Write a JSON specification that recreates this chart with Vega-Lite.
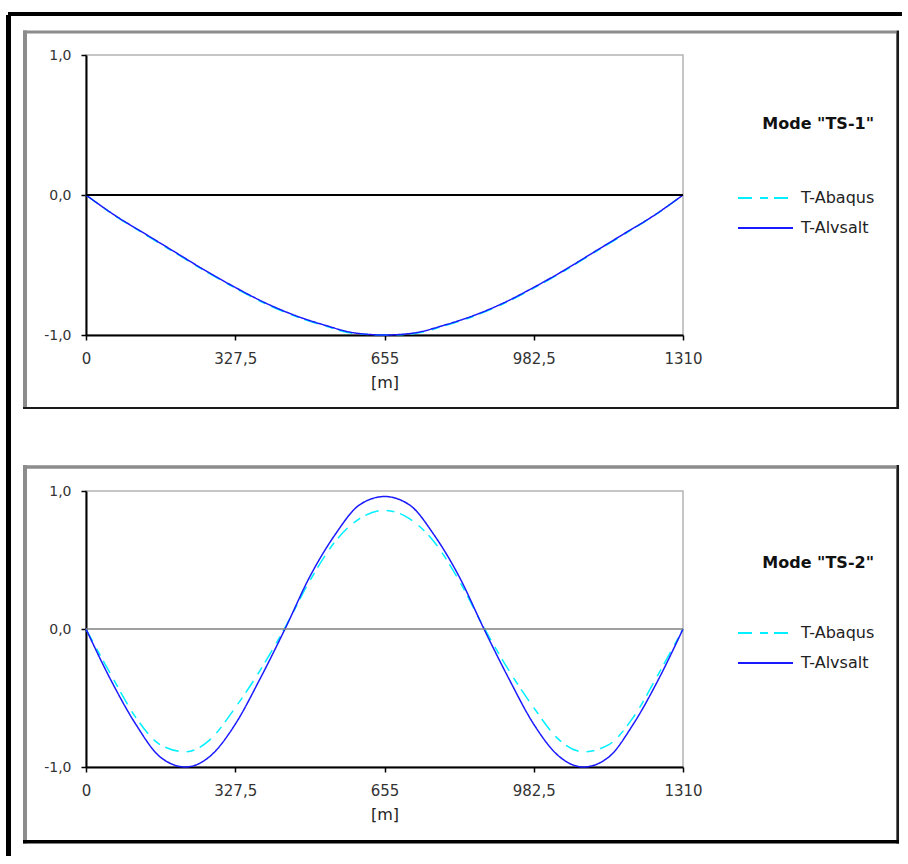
{
  "$schema": "https://vega.github.io/schema/vega-lite/v6.json",
  "background": "white",
  "padding": {"left": 5, "top": 11, "right": 0, "bottom": 0},
  "autosize": {"type": "pad"},
  "bounds": "flush",
  "spacing": 156,
  "config": {
    "view": {"stroke": "#b4b4b4", "strokeWidth": 1.5},
    "font": "DejaVu Sans",
    "axis": {
      "labelFont": "DejaVu Sans", "labelColor": "#333", "labelFontSize": 15,
      "titleFont": "DejaVu Sans", "titleColor": "#222", "titleFontSize": 16, "titleFontWeight": "normal",
      "tickColor": "#000", "tickWidth": 1.5, "tickSize": 5,
      "domainColor": "#000", "domainWidth": 2, "grid": false,
      "labelFlush": false, "labelOverlap": false
    },
    "legend": {
      "symbolType": "stroke", "symbolSize": 3025, "symbolStrokeWidth": 2,
      "labelFont": "DejaVu Sans", "labelFontSize": 16, "labelColor": "#222", "labelOffset": 7,
      "titleFont": "DejaVu Sans", "titleFontSize": 16, "titleFontWeight": "bold", "titleColor": "#111",
      "titleAnchor": "end", "padding": 0, "clipHeight": 18
    }
  },
  "datasets": {
    "ts1": [
      {"x": 0, "series": "T-Abaqus", "v": 0},
      {"x": 65.5, "series": "T-Abaqus", "v": -0.152},
      {"x": 131, "series": "T-Abaqus", "v": -0.285},
      {"x": 196.5, "series": "T-Abaqus", "v": -0.415},
      {"x": 262, "series": "T-Abaqus", "v": -0.545},
      {"x": 327.5, "series": "T-Abaqus", "v": -0.665},
      {"x": 393, "series": "T-Abaqus", "v": -0.775},
      {"x": 458.5, "series": "T-Abaqus", "v": -0.865},
      {"x": 524, "series": "T-Abaqus", "v": -0.935},
      {"x": 589.5, "series": "T-Abaqus", "v": -0.99},
      {"x": 655, "series": "T-Abaqus", "v": -1.0},
      {"x": 720.5, "series": "T-Abaqus", "v": -0.99},
      {"x": 786, "series": "T-Abaqus", "v": -0.935},
      {"x": 851.5, "series": "T-Abaqus", "v": -0.865},
      {"x": 917, "series": "T-Abaqus", "v": -0.775},
      {"x": 982.5, "series": "T-Abaqus", "v": -0.665},
      {"x": 1048, "series": "T-Abaqus", "v": -0.545},
      {"x": 1113.5, "series": "T-Abaqus", "v": -0.415},
      {"x": 1179, "series": "T-Abaqus", "v": -0.285},
      {"x": 1244.5, "series": "T-Abaqus", "v": -0.152},
      {"x": 1310, "series": "T-Abaqus", "v": 0},
      {"x": 0, "series": "T-Alvsalt", "v": 0},
      {"x": 65.5, "series": "T-Alvsalt", "v": -0.15},
      {"x": 131, "series": "T-Alvsalt", "v": -0.28},
      {"x": 196.5, "series": "T-Alvsalt", "v": -0.41},
      {"x": 262, "series": "T-Alvsalt", "v": -0.54},
      {"x": 327.5, "series": "T-Alvsalt", "v": -0.66},
      {"x": 393, "series": "T-Alvsalt", "v": -0.77},
      {"x": 458.5, "series": "T-Alvsalt", "v": -0.86},
      {"x": 524, "series": "T-Alvsalt", "v": -0.93},
      {"x": 589.5, "series": "T-Alvsalt", "v": -0.985},
      {"x": 655, "series": "T-Alvsalt", "v": -1.0},
      {"x": 720.5, "series": "T-Alvsalt", "v": -0.985},
      {"x": 786, "series": "T-Alvsalt", "v": -0.93},
      {"x": 851.5, "series": "T-Alvsalt", "v": -0.86},
      {"x": 917, "series": "T-Alvsalt", "v": -0.77},
      {"x": 982.5, "series": "T-Alvsalt", "v": -0.66},
      {"x": 1048, "series": "T-Alvsalt", "v": -0.54},
      {"x": 1113.5, "series": "T-Alvsalt", "v": -0.41},
      {"x": 1179, "series": "T-Alvsalt", "v": -0.28},
      {"x": 1244.5, "series": "T-Alvsalt", "v": -0.15},
      {"x": 1310, "series": "T-Alvsalt", "v": 0}
    ],
    "ts2": [
      {"x": 0, "series": "T-Abaqus", "v": 0},
      {"x": 54.58, "series": "T-Abaqus", "v": -0.33},
      {"x": 109.17, "series": "T-Abaqus", "v": -0.64},
      {"x": 163.75, "series": "T-Abaqus", "v": -0.84},
      {"x": 218.33, "series": "T-Abaqus", "v": -0.89},
      {"x": 272.92, "series": "T-Abaqus", "v": -0.8},
      {"x": 327.5, "series": "T-Abaqus", "v": -0.57},
      {"x": 382.08, "series": "T-Abaqus", "v": -0.3},
      {"x": 436.67, "series": "T-Abaqus", "v": 0.01},
      {"x": 491.25, "series": "T-Abaqus", "v": 0.35},
      {"x": 545.83, "series": "T-Abaqus", "v": 0.63},
      {"x": 600.42, "series": "T-Abaqus", "v": 0.8},
      {"x": 655, "series": "T-Abaqus", "v": 0.86},
      {"x": 709.58, "series": "T-Abaqus", "v": 0.8},
      {"x": 764.17, "series": "T-Abaqus", "v": 0.63},
      {"x": 818.75, "series": "T-Abaqus", "v": 0.35},
      {"x": 873.33, "series": "T-Abaqus", "v": 0.01},
      {"x": 927.92, "series": "T-Abaqus", "v": -0.3},
      {"x": 982.5, "series": "T-Abaqus", "v": -0.57},
      {"x": 1037.08, "series": "T-Abaqus", "v": -0.8},
      {"x": 1091.67, "series": "T-Abaqus", "v": -0.89},
      {"x": 1146.25, "series": "T-Abaqus", "v": -0.84},
      {"x": 1200.83, "series": "T-Abaqus", "v": -0.64},
      {"x": 1255.42, "series": "T-Abaqus", "v": -0.33},
      {"x": 1310, "series": "T-Abaqus", "v": 0},
      {"x": 0, "series": "T-Alvsalt", "v": 0},
      {"x": 54.58, "series": "T-Alvsalt", "v": -0.37},
      {"x": 109.17, "series": "T-Alvsalt", "v": -0.69},
      {"x": 163.75, "series": "T-Alvsalt", "v": -0.93},
      {"x": 218.33, "series": "T-Alvsalt", "v": -1.0},
      {"x": 272.92, "series": "T-Alvsalt", "v": -0.92},
      {"x": 327.5, "series": "T-Alvsalt", "v": -0.69},
      {"x": 382.08, "series": "T-Alvsalt", "v": -0.36},
      {"x": 436.67, "series": "T-Alvsalt", "v": 0.0},
      {"x": 491.25, "series": "T-Alvsalt", "v": 0.38},
      {"x": 545.83, "series": "T-Alvsalt", "v": 0.68},
      {"x": 600.42, "series": "T-Alvsalt", "v": 0.9},
      {"x": 655, "series": "T-Alvsalt", "v": 0.96},
      {"x": 709.58, "series": "T-Alvsalt", "v": 0.9},
      {"x": 764.17, "series": "T-Alvsalt", "v": 0.68},
      {"x": 818.75, "series": "T-Alvsalt", "v": 0.38},
      {"x": 873.33, "series": "T-Alvsalt", "v": 0.0},
      {"x": 927.92, "series": "T-Alvsalt", "v": -0.36},
      {"x": 982.5, "series": "T-Alvsalt", "v": -0.69},
      {"x": 1037.08, "series": "T-Alvsalt", "v": -0.92},
      {"x": 1091.67, "series": "T-Alvsalt", "v": -1.0},
      {"x": 1146.25, "series": "T-Alvsalt", "v": -0.93},
      {"x": 1200.83, "series": "T-Alvsalt", "v": -0.69},
      {"x": 1255.42, "series": "T-Alvsalt", "v": -0.37},
      {"x": 1310, "series": "T-Alvsalt", "v": 0}
    ]
  },
  "vconcat": [
    {
      "width": 597,
      "height": 280,
      "layer": [
        {
          "data": {"name": "ts1"},
          "mark": {"type": "line", "interpolate": "monotone", "strokeWidth": 1.5},
          "encoding": {
            "x": {"field": "x", "type": "quantitative",
                  "scale": {"domain": [0, 1310], "nice": false, "zero": false},
                  "axis": {"values": [0, 327.5, 655, 982.5, 1310], "labelExpr": "replace(format(datum.value, '~g'), '.', ',')", "title": "[m]", "labelPadding": 11, "titlePadding": 8}},
            "y": {"field": "v", "type": "quantitative",
                  "scale": {"domain": [-1, 1], "nice": false, "zero": false},
                  "axis": {"values": [-1, 0, 1], "labelExpr": "datum.value === 1 ? '1,0' : datum.value === 0 ? '0,0' : '-1,0'", "title": null, "labelFontSize": 14, "labelPadding": 10}},
            "color": {"field": "series", "type": "nominal",
                      "scale": {"domain": ["T-Abaqus", "T-Alvsalt"], "range": ["#00f0ff", "#1a1aff"]},
                      "legend": {"title": "Mode \"TS-1\"", "orient": "none", "legendX": 651, "legendY": 61, "titlePadding": 57, "rowPadding": 12}},
            "strokeDash": {"field": "series", "type": "nominal",
                      "scale": {"domain": ["T-Abaqus", "T-Alvsalt"], "range": [[14, 8, 8, 6], [1, 0]]},
                      "legend": {"title": "Mode \"TS-1\"", "orient": "none", "legendX": 651, "legendY": 61, "titlePadding": 57, "rowPadding": 12}}
          }
        },
        {"data": {"values": [{}]}, "mark": {"type": "rule", "color": "#000", "strokeWidth": 5},
         "encoding": {"x": {"datum": -170.06, "type": "quantitative"},
                      "y": {"datum": 1.2857, "type": "quantitative"},
                      "y2": {"datum": -4.7214}}},
        {"data": {"values": [{}]}, "mark": {"type": "rule", "color": "#000", "strokeWidth": 4},
         "encoding": {"x": {"datum": -171.15, "type": "quantitative"},
                      "x2": {"datum": 1790.5},
                      "y": {"datum": 1.29286, "type": "quantitative"}}},
        {"data": {"values": [{}]}, "mark": {"type": "rule", "color": "#8c8c8c", "strokeWidth": 4},
         "encoding": {"x": {"datum": -133.85, "type": "quantitative"},
                      "y": {"datum": 1.175, "type": "quantitative"},
                      "y2": {"datum": -1.5286}}},
        {"data": {"values": [{}]}, "mark": {"type": "rule", "color": "#8c8c8c", "strokeWidth": 3},
         "encoding": {"x": {"datum": -138.24, "type": "quantitative"},
                      "x2": {"datum": 1777.4},
                      "y": {"datum": 1.16429, "type": "quantitative"}}},
        {"data": {"values": [{}]}, "mark": {"type": "rule", "color": "#1a1a1a", "strokeWidth": 2.7},
         "encoding": {"x": {"datum": 1781.1, "type": "quantitative"},
                      "y": {"datum": 1.175, "type": "quantitative"},
                      "y2": {"datum": -1.5286}}},
        {"data": {"values": [{}]}, "mark": {"type": "rule", "color": "#1a1a1a", "strokeWidth": 2},
         "encoding": {"x": {"datum": -138.24, "type": "quantitative"},
                      "x2": {"datum": 1783.9},
                      "y": {"datum": -1.52143, "type": "quantitative"}}},
        {"data": {"values": [{}]}, "mark": {"type": "rule", "color": "#000", "strokeWidth": 2},
         "encoding": {"y": {"datum": 0, "type": "quantitative"}}}
      ]
    },
    {
      "width": 597,
      "height": 276,
      "layer": [
        {
          "data": {"name": "ts2"},
          "mark": {"type": "line", "interpolate": "monotone", "strokeWidth": 1.5},
          "encoding": {
            "x": {"field": "x", "type": "quantitative",
                  "scale": {"domain": [0, 1310], "nice": false, "zero": false},
                  "axis": {"values": [0, 327.5, 655, 982.5, 1310], "labelExpr": "replace(format(datum.value, '~g'), '.', ',')", "title": "[m]", "labelPadding": 11, "titlePadding": 8}},
            "y": {"field": "v", "type": "quantitative",
                  "scale": {"domain": [-1, 1], "nice": false, "zero": false},
                  "axis": {"values": [-1, 0, 1], "labelExpr": "datum.value === 1 ? '1,0' : datum.value === 0 ? '0,0' : '-1,0'", "title": null, "labelFontSize": 14, "labelPadding": 10}},
            "color": {"field": "series", "type": "nominal",
                      "scale": {"domain": ["T-Abaqus", "T-Alvsalt"], "range": ["#00f0ff", "#1a1aff"]},
                      "legend": {"title": "Mode \"TS-2\"", "orient": "none", "legendX": 651, "legendY": 64, "titlePadding": 53, "rowPadding": 12}},
            "strokeDash": {"field": "series", "type": "nominal",
                      "scale": {"domain": ["T-Abaqus", "T-Alvsalt"], "range": [[14, 8, 8, 6], [1, 0]]},
                      "legend": {"title": "Mode \"TS-2\"", "orient": "none", "legendX": 651, "legendY": 64, "titlePadding": 53, "rowPadding": 12}}
          }
        },
        {"data": {"values": [{}]}, "mark": {"type": "rule", "color": "#8c8c8c", "strokeWidth": 3.5},
         "encoding": {"x": {"datum": -138.24, "type": "quantitative"},
                      "x2": {"datum": 1777.4},
                      "y": {"datum": 1.17391, "type": "quantitative"}}},
        {"data": {"values": [{}]}, "mark": {"type": "rule", "color": "#8c8c8c", "strokeWidth": 4},
         "encoding": {"x": {"datum": -133.85, "type": "quantitative"},
                      "y": {"datum": 1.1884, "type": "quantitative"},
                      "y2": {"datum": -1.5543}}},
        {"data": {"values": [{}]}, "mark": {"type": "rule", "color": "#1a1a1a", "strokeWidth": 2.7},
         "encoding": {"x": {"datum": 1781.1, "type": "quantitative"},
                      "y": {"datum": 1.1884, "type": "quantitative"},
                      "y2": {"datum": -1.5543}}},
        {"data": {"values": [{}]}, "mark": {"type": "rule", "color": "#000", "strokeWidth": 3.5},
         "encoding": {"x": {"datum": -138.24, "type": "quantitative"},
                      "x2": {"datum": 1783.9},
                      "y": {"datum": -1.5413, "type": "quantitative"}}},
        {"data": {"values": [{}]}, "mark": {"type": "rule", "color": "#808080", "strokeWidth": 1.5},
         "encoding": {"y": {"datum": 0, "type": "quantitative"}}}
      ]
    }
  ],
  "resolve": {"scale": {"color": "independent", "strokeDash": "independent"}}
}
